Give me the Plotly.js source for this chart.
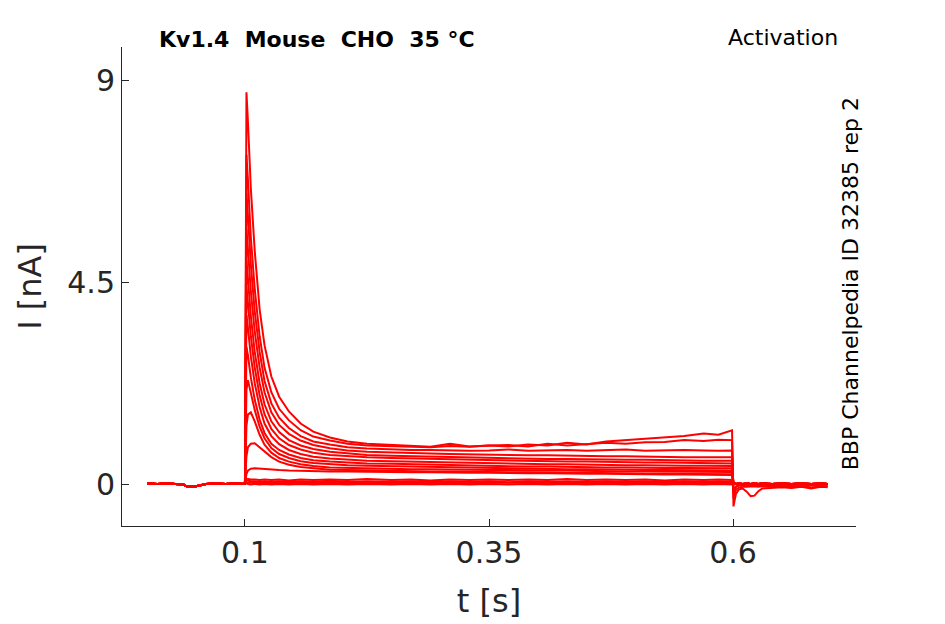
<!DOCTYPE html>
<html>
<head>
<meta charset="utf-8">
<script src="https://cdn.plot.ly/plotly-3.0.1.min.js"></script>
<style>html,body{margin:0;padding:0;background:#fff;}#chart{width:945px;height:624px;}</style>
</head>
<body>
<div id="chart"></div>
<script>
// time grids (s)
const tPre = [0, 0.01, 0.02, 0.03, 0.037, 0.04, 0.045, 0.05, 0.055, 0.06, 0.07, 0.08, 0.09, 0.0995];
const tPulse = [0.1, 0.1008, 0.1015, 0.103, 0.106, 0.11, 0.115, 0.12, 0.127, 0.135, 0.145, 0.157, 0.17, 0.187, 0.205, 0.225, 0.25, 0.27, 0.29, 0.31, 0.33, 0.35, 0.37, 0.39, 0.41, 0.43, 0.45, 0.47, 0.49, 0.51, 0.53, 0.55, 0.57, 0.585, 0.599];
const tPost = [0.6005, 0.6015, 0.603, 0.606, 0.61, 0.614, 0.618, 0.622, 0.626, 0.63, 0.64, 0.65, 0.66, 0.67, 0.68, 0.69, 0.697];

// holding current before the step (nA)
const basePre = [0.01, 0.0, 0.01, 0.0, -0.01, -0.05, -0.06, -0.05, -0.02, 0.0, 0.01, 0.0, 0.01, 0.0];

// currents during the step (nA), one sweep each
const sweepA = [0.05, 6.0, 8.75, 8.1, 6.6, 5.2, 3.9, 3.1, 2.4, 1.95, 1.62, 1.35, 1.17, 1.04, 0.95, 0.9, 0.87, 0.85, 0.83, 0.9, 0.84, 0.86, 0.84, 0.88, 0.86, 0.92, 0.88, 0.95, 0.98, 1.02, 1.05, 1.07, 1.13, 1.1, 1.2];
const sweepB = [0.05, 5.0, 7.35, 6.8, 5.5, 4.35, 3.3, 2.6, 2.05, 1.68, 1.42, 1.2, 1.06, 0.97, 0.9, 0.86, 0.84, 0.83, 0.82, 0.85, 0.83, 0.86, 0.87, 0.84, 0.9, 0.86, 0.89, 0.92, 0.9, 0.93, 0.94, 0.98, 0.96, 0.99, 0.98];
const sweepC = [0.05, 4.4, 6.5, 6.0, 4.9, 3.85, 2.95, 2.3, 1.8, 1.48, 1.25, 1.07, 0.95, 0.88, 0.82, 0.79, 0.77, 0.76, 0.76, 0.75, 0.74, 0.75, 0.77, 0.74, 0.75, 0.76, 0.74, 0.75, 0.77, 0.74, 0.75, 0.76, 0.75, 0.74, 0.75];
const sweepD = [0.05, 3.8, 5.7, 5.25, 4.3, 3.4, 2.6, 2.05, 1.6, 1.32, 1.12, 0.97, 0.87, 0.8, 0.75, 0.72, 0.7, 0.69, 0.68, 0.67, 0.66, 0.66, 0.65, 0.64, 0.64, 0.63, 0.63, 0.62, 0.62, 0.61, 0.61, 0.6, 0.6, 0.6, 0.6];
const sweepE = [0.05, 3.2, 5.0, 4.6, 3.75, 2.95, 2.25, 1.78, 1.4, 1.16, 0.98, 0.86, 0.78, 0.72, 0.68, 0.65, 0.63, 0.62, 0.61, 0.6, 0.59, 0.58, 0.58, 0.57, 0.56, 0.56, 0.55, 0.55, 0.54, 0.54, 0.53, 0.53, 0.52, 0.52, 0.52];
const sweepF = [0.05, 2.7, 4.4, 4.05, 3.3, 2.6, 1.98, 1.56, 1.23, 1.02, 0.87, 0.77, 0.7, 0.65, 0.62, 0.6, 0.58, 0.57, 0.56, 0.55, 0.54, 0.53, 0.52, 0.51, 0.51, 0.5, 0.5, 0.49, 0.49, 0.48, 0.48, 0.47, 0.47, 0.46, 0.46];
const sweepG = [0.05, 2.2, 3.77, 3.5, 2.85, 2.25, 1.72, 1.35, 1.07, 0.89, 0.76, 0.67, 0.61, 0.57, 0.54, 0.52, 0.51, 0.5, 0.49, 0.48, 0.47, 0.46, 0.45, 0.45, 0.44, 0.44, 0.43, 0.43, 0.42, 0.42, 0.41, 0.41, 0.41, 0.4, 0.4];
const sweepH = [0.05, 1.7, 3.06, 2.88, 2.38, 1.88, 1.44, 1.14, 0.9, 0.76, 0.66, 0.58, 0.53, 0.5, 0.48, 0.46, 0.45, 0.44, 0.43, 0.42, 0.41, 0.4, 0.4, 0.39, 0.39, 0.38, 0.38, 0.37, 0.37, 0.36, 0.36, 0.36, 0.35, 0.35, 0.35];
const sweepI = [0.05, 1.2, 2.1, 2.32, 2.05, 1.65, 1.28, 1.02, 0.8, 0.67, 0.58, 0.51, 0.47, 0.44, 0.42, 0.41, 0.4, 0.39, 0.38, 0.37, 0.36, 0.35, 0.35, 0.34, 0.34, 0.33, 0.33, 0.32, 0.32, 0.31, 0.31, 0.31, 0.3, 0.3, 0.3];
const sweepJ = [0.05, 0.7, 1.3, 1.55, 1.6, 1.4, 1.1, 0.88, 0.7, 0.58, 0.5, 0.44, 0.4, 0.37, 0.36, 0.35, 0.34, 0.33, 0.33, 0.32, 0.32, 0.31, 0.31, 0.3, 0.3, 0.3, 0.29, 0.29, 0.28, 0.28, 0.28, 0.27, 0.27, 0.27, 0.27];
const sweepK = [0.05, 0.35, 0.62, 0.82, 0.9, 0.91, 0.82, 0.72, 0.6, 0.5, 0.43, 0.38, 0.35, 0.32, 0.31, 0.3, 0.29, 0.29, 0.28, 0.28, 0.27, 0.27, 0.26, 0.26, 0.25, 0.25, 0.25, 0.24, 0.24, 0.23, 0.23, 0.23, 0.22, 0.22, 0.22];
const sweepL = [0.03, 0.12, 0.22, 0.3, 0.34, 0.35, 0.34, 0.33, 0.32, 0.31, 0.3, 0.29, 0.29, 0.28, 0.28, 0.27, 0.27, 0.26, 0.26, 0.25, 0.25, 0.25, 0.24, 0.24, 0.24, 0.23, 0.23, 0.23, 0.22, 0.22, 0.21, 0.21, 0.21, 0.2, 0.2];
const sweepM = [0.05, 0.14, 0.12, 0.11, 0.1, 0.1, 0.09, 0.1, 0.09, 0.1, 0.08, 0.1, 0.09, 0.1, 0.09, 0.11, 0.09, 0.1, 0.08, 0.1, 0.09, 0.1, 0.09, 0.1, 0.09, 0.11, 0.09, 0.1, 0.09, 0.1, 0.08, 0.1, 0.09, 0.1, 0.09];
const sweepN = [0.04, 0.09, 0.08, 0.07, 0.06, 0.06, 0.05, 0.06, 0.05, 0.06, 0.05, 0.06, 0.05, 0.07, 0.05, 0.06, 0.05, 0.06, 0.05, 0.06, 0.05, 0.06, 0.04, 0.06, 0.05, 0.06, 0.05, 0.06, 0.05, 0.06, 0.05, 0.06, 0.05, 0.06, 0.05];
const sweepO = [0.02, 0.05, 0.04, 0.03, 0.03, 0.02, 0.03, 0.02, 0.03, 0.02, 0.03, 0.02, 0.03, 0.02, 0.03, 0.02, 0.03, 0.02, 0.03, 0.02, 0.03, 0.02, 0.03, 0.02, 0.03, 0.02, 0.03, 0.02, 0.03, 0.02, 0.03, 0.02, 0.03, 0.02, 0.03];
const sweepP = [0.0, 0.02, 0.01, 0.0, -0.01, 0.0, -0.01, 0.0, -0.01, 0.0, -0.01, 0.0, -0.01, 0.0, -0.01, 0.0, -0.01, 0.0, -0.01, 0.0, -0.01, 0.0, -0.01, 0.0, -0.01, 0.0, -0.01, 0.0, -0.01, 0.0, -0.01, 0.0, -0.01, 0.0, -0.01];

// tail currents after the step (nA)
const postA = [-0.5, -0.38, -0.22, -0.12, -0.1, -0.17, -0.27, -0.26, -0.16, -0.1, -0.09, -0.07, -0.09, -0.06, -0.1, -0.06, -0.07];
const postB = [-0.32, -0.22, -0.13, -0.08, -0.06, -0.06, -0.05, -0.05, -0.06, -0.05, -0.06, -0.05, -0.06, -0.05, -0.07, -0.05, -0.05];
const postC = [-0.2, -0.12, -0.06, -0.03, -0.02, -0.02, -0.02, -0.01, -0.02, -0.01, -0.02, -0.01, -0.02, -0.01, -0.02, -0.01, -0.01];
const postZ = [0.0, 0.01, 0.0, 0.01, 0.0, 0.01, 0.0, 0.01, 0.0, 0.01, 0.0, 0.01, 0.0, 0.01, 0.0, 0.01, 0.0];

const xTickVals = [0.1, 0.35, 0.6];
const xTickText = ['0.1', '0.35', '0.6'];
const yTickVals = [0, 4.5, 9];
const yTickText = ['0', '4.5', '9'];

const sweeps = [
  [sweepP, postZ], [sweepO, postZ], [sweepN, postZ], [sweepM, postZ],
  [sweepL, postZ], [sweepK, postZ], [sweepJ, postZ], [sweepI, postZ],
  [sweepH, postZ], [sweepG, postZ], [sweepF, postZ], [sweepE, postC],
  [sweepD, postC], [sweepC, postC], [sweepB, postB], [sweepA, postA]
];
const tAll = tPre.concat(tPulse).concat(tPost);
const traces = sweeps.map(function (s) {
  return {
    type: 'scatter', mode: 'lines',
    x: tAll,
    y: basePre.concat(s[0]).concat(s[1]),
    line: {color: '#ff0000', width: 2},
    hoverinfo: 'skip', showlegend: false
  };
});

const font = 'DejaVu Sans, Liberation Sans, sans-serif';
const layout = {
  width: 945, height: 624,
  margin: {l: 122, r: 89, t: 47, b: 98},
  paper_bgcolor: '#ffffff', plot_bgcolor: '#ffffff',
  showlegend: false,
  font: {family: font, color: '#262626'},
  xaxis: {
    range: [-0.026, 0.726],
    tickvals: xTickVals, ticktext: xTickText,
    ticks: 'inside', ticklen: 7, tickwidth: 1, tickcolor: '#262626',
    showline: true, linecolor: '#262626', linewidth: 1,
    showgrid: false, zeroline: false,
    tickfont: {size: 30, color: '#262626', family: font},
    title: {text: 't [s]', font: {size: 32, color: '#262626', family: font}, standoff: 20}
  },
  yaxis: {
    range: [-0.938, 9.759],
    tickvals: yTickVals, ticktext: yTickText,
    ticks: 'inside', ticklen: 7, tickwidth: 1, tickcolor: '#262626',
    showline: true, linecolor: '#262626', linewidth: 1,
    showgrid: false, zeroline: false,
    tickfont: {size: 30, color: '#262626', family: font},
    title: {text: 'I [nA]', font: {size: 32, color: '#262626', family: font}, standoff: 16}
  },
  annotations: [
    {text: '<b>Kv1.4\u00a0\u00a0Mouse\u00a0\u00a0CHO\u00a0\u00a035 °C</b>', xref: 'paper', yref: 'paper',
     x: 0.048, y: 1.0166, xanchor: 'left', yanchor: 'middle', showarrow: false,
     font: {size: 22, color: '#000000', family: font}},
    {text: 'Activation', xref: 'paper', yref: 'paper',
     x: 0.9785, y: 1.0188, xanchor: 'right', yanchor: 'middle', showarrow: false,
     font: {size: 22, color: '#000000', family: font}},
    {text: 'BBP Channelpedia ID 32385 rep 2', xref: 'paper', yref: 'paper',
     x: 0.992, y: 0.505, xanchor: 'center', yanchor: 'middle', textangle: -90, showarrow: false,
     font: {size: 22, color: '#000000', family: font}}
  ]
};

Plotly.newPlot('chart', traces, layout, {staticPlot: true, displayModeBar: false});
</script>
</body>
</html>
